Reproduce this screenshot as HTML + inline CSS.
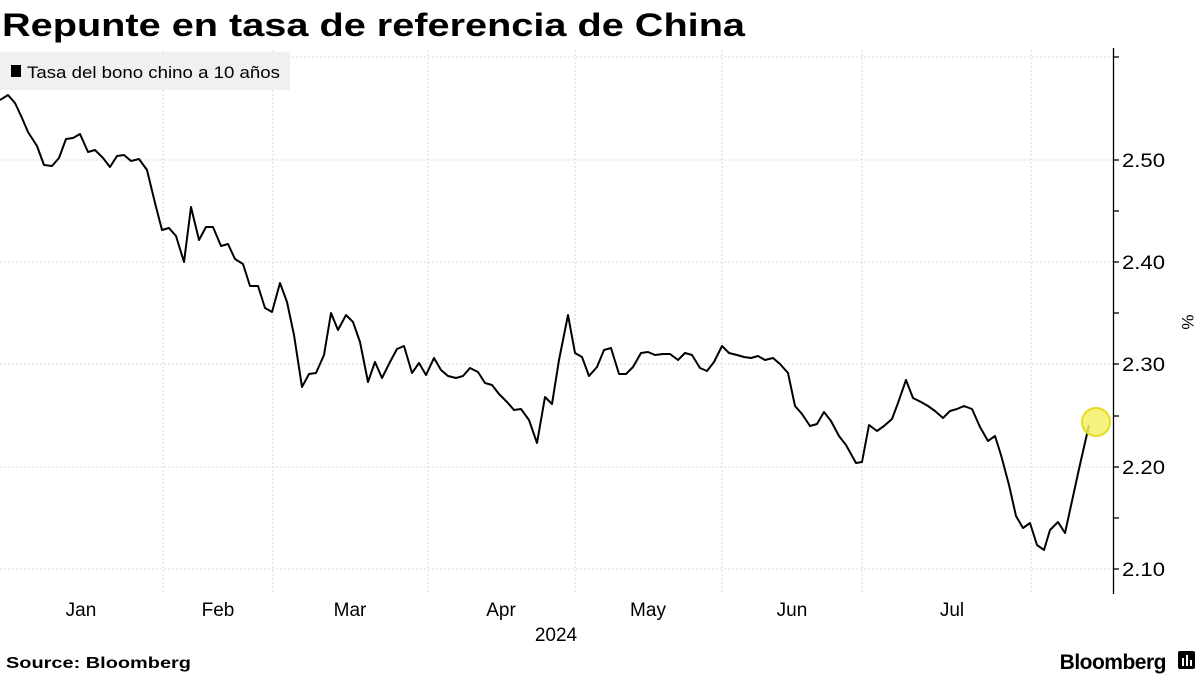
<!DOCTYPE html>
<html><head><meta charset="utf-8"><style>
body{margin:0;background:#fff;width:1200px;height:675px;overflow:hidden;font-family:"Liberation Sans",sans-serif;}
</style></head><body>
<svg width="1200" height="675" xmlns="http://www.w3.org/2000/svg" font-family="Liberation Sans, sans-serif">
<text x="2" y="36" font-size="32" font-weight="bold" fill="#000" textLength="743" lengthAdjust="spacingAndGlyphs">Repunte en tasa de referencia de China</text>
<g stroke="#cfcfcf" stroke-dasharray="2,2" stroke-width="0.8">
<line x1="0" y1="57" x2="1113" y2="57"/>
<line x1="0" y1="160" x2="1113" y2="160"/>
<line x1="0" y1="262" x2="1113" y2="262"/>
<line x1="0" y1="364" x2="1113" y2="364"/>
<line x1="0" y1="467" x2="1113" y2="467"/>
<line x1="0" y1="569" x2="1113" y2="569"/>
<line x1="163" y1="50" x2="163" y2="593"/>
<line x1="273" y1="50" x2="273" y2="593"/>
<line x1="428" y1="50" x2="428" y2="593"/>
<line x1="575" y1="50" x2="575" y2="593"/>
<line x1="722" y1="50" x2="722" y2="593"/>
<line x1="862" y1="50" x2="862" y2="593"/>
<line x1="1031" y1="50" x2="1031" y2="593"/>
</g>
<rect x="0" y="52" width="290" height="38" fill="#f0f0f0"/>
<rect x="11" y="65" width="10" height="12" fill="#000"/>
<text x="27" y="78" font-size="17" fill="#000" textLength="253" lengthAdjust="spacingAndGlyphs">Tasa del bono chino a 10 años</text>
<g stroke="#000" stroke-width="1.3">
<line x1="1113.5" y1="48" x2="1113.5" y2="594"/>
<line x1="1113" y1="57" x2="1119" y2="57"/>
<line x1="1113" y1="160" x2="1119" y2="160"/>
<line x1="1113" y1="211" x2="1119" y2="211"/>
<line x1="1113" y1="262" x2="1119" y2="262"/>
<line x1="1113" y1="313" x2="1119" y2="313"/>
<line x1="1113" y1="364" x2="1119" y2="364"/>
<line x1="1113" y1="416" x2="1119" y2="416"/>
<line x1="1113" y1="467" x2="1119" y2="467"/>
<line x1="1113" y1="518" x2="1119" y2="518"/>
<line x1="1113" y1="569" x2="1119" y2="569"/>
</g>
<g font-size="19" fill="#000">
<text x="1122" y="167" textLength="43" lengthAdjust="spacingAndGlyphs">2.50</text>
<text x="1122" y="269" textLength="43" lengthAdjust="spacingAndGlyphs">2.40</text>
<text x="1122" y="371" textLength="43" lengthAdjust="spacingAndGlyphs">2.30</text>
<text x="1122" y="474" textLength="43" lengthAdjust="spacingAndGlyphs">2.20</text>
<text x="1122" y="576" textLength="43" lengthAdjust="spacingAndGlyphs">2.10</text>
<text transform="translate(1182,322) rotate(90)" font-size="17" text-anchor="middle">%</text>
<text x="81" y="616" text-anchor="middle">Jan</text>
<text x="218" y="616" text-anchor="middle">Feb</text>
<text x="350" y="616" text-anchor="middle">Mar</text>
<text x="501" y="616" text-anchor="middle">Apr</text>
<text x="648" y="616" text-anchor="middle">May</text>
<text x="792" y="616" text-anchor="middle">Jun</text>
<text x="952" y="616" text-anchor="middle">Jul</text>
<text x="556" y="641" text-anchor="middle">2024</text>
</g>
<polyline fill="none" stroke="#000" stroke-width="2" stroke-linejoin="round" points="0,100 8,95 15,103 22,118 28,132 37,146 44,165 52,166 59,158 66,139 73,138 80,134 88,152 95,150 103,158 110,167 117,156 124,155 131,161 139,159 147,170 155,203 162,230 169,228 176,236 184,262 191,207 199,240 206,227 213,227 221,246 228,244 235,259 243,264 250,286 258,286 265,308 272,312 280,283 287,302 294,335 302,387 309,374 316,373 324,355 331,313 338,330 346,315 353,322 360,342 368,382 375,362 382,378 390,362 397,349 404,346 412,373 419,363 426,375 434,358 441,370 448,376 456,378 463,376 470,368 478,372 485,383 492,385 499,394 507,402 514,410 521,409 529,420 537,443 545,397 552,404 559,360 568,315 575,353 582,357 589,376 597,367 604,350 611,348 619,374 626,374 633,367 641,353 648,352 655,355 663,354 670,354 678,360 685,353 692,355 700,368 707,371 714,362 722,346 729,353 737,355 744,357 751,358 758,356 765,360 773,358 780,364 788,373 795,406 802,414 810,426 817,424 824,412 831,421 839,436 846,445 856,463 862,462 869,425 877,431 884,426 892,419 898,403 906,380 913,398 921,402 928,406 935,411 943,418 950,411 957,409 964,406 972,409 980,427 988,441 995,436 1001,455 1009,485 1016,516 1023,528 1030,523 1037,545 1044,550 1050,530 1058,522 1065,533 1072,501 1079,469 1089,425"/>
<circle cx="1096" cy="422" r="14" fill="#f5f06a" fill-opacity="0.85" stroke="#e6dc1e" stroke-width="2"/>
<text x="6" y="668" font-size="16" font-weight="bold" fill="#000" textLength="185" lengthAdjust="spacingAndGlyphs">Source: Bloomberg</text>
<text x="1166" y="669" font-size="21" font-weight="bold" fill="#000" text-anchor="end" letter-spacing="-0.5">Bloomberg</text>
<rect x="1178" y="651" width="17" height="18" rx="2" fill="#000"/>
<g stroke="#fff" stroke-width="2"><line x1="1183" y1="658" x2="1183" y2="666"/><line x1="1187" y1="655" x2="1187" y2="666"/><line x1="1191" y1="660" x2="1191" y2="666"/></g>
</svg>
</body></html>
